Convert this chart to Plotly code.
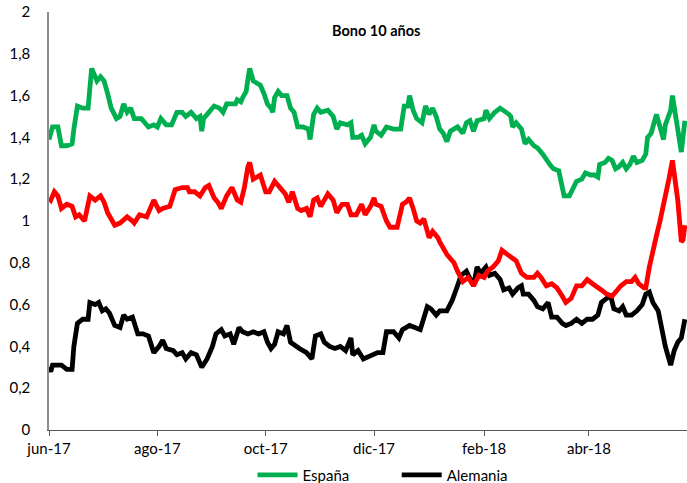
import pandas as pd
import plotly.graph_objects as go

BASE = "2017-06-01"

# days since 2017-06-01 and yields (%)
esp_days = [0, 2, 5, 7, 10, 13, 14, 16, 19, 22, 24, 27, 29, 31, 33, 35, 38, 40, 42, 44, 46, 48, 52, 56, 59, 61, 63, 66, 69, 72, 75, 77, 80, 83, 85, 86, 87, 91, 93, 96, 98, 100, 103, 105, 106, 108, 109, 111, 112, 113, 115, 117, 119, 121, 123, 125, 126, 127, 129, 131, 134, 136, 138, 140, 143, 146, 147, 149, 151, 153, 157, 160, 162, 164, 168, 170, 171, 174, 176, 178, 181, 183, 184, 187, 190, 194, 198, 200, 202, 203, 205, 207, 210, 212, 214, 216, 218, 220, 222, 224, 226, 230, 231, 233, 235, 237, 239, 241, 245, 246, 248, 251, 254, 256, 259, 260, 261, 263, 266, 268, 270, 273, 275, 278, 280, 282, 284, 287, 289, 290, 293, 295, 297, 300, 302, 305, 307, 309, 310, 313, 315, 317, 319, 321, 323, 325, 327, 329, 331, 334, 336, 337, 339, 342, 344, 346, 347, 350, 351, 352, 354, 356, 358]
esp_vals = [1.39, 1.45, 1.45, 1.36, 1.36, 1.37, 1.44, 1.55, 1.54, 1.54, 1.73, 1.67, 1.69, 1.67, 1.61, 1.54, 1.49, 1.50, 1.56, 1.52, 1.54, 1.49, 1.49, 1.45, 1.46, 1.45, 1.49, 1.46, 1.46, 1.52, 1.52, 1.50, 1.52, 1.49, 1.50, 1.43, 1.49, 1.53, 1.55, 1.54, 1.52, 1.56, 1.56, 1.56, 1.58, 1.57, 1.59, 1.62, 1.68, 1.73, 1.67, 1.66, 1.65, 1.61, 1.56, 1.54, 1.52, 1.59, 1.62, 1.60, 1.60, 1.54, 1.52, 1.45, 1.45, 1.44, 1.39, 1.51, 1.54, 1.52, 1.53, 1.50, 1.44, 1.47, 1.46, 1.47, 1.40, 1.40, 1.41, 1.37, 1.40, 1.46, 1.43, 1.41, 1.45, 1.44, 1.44, 1.55, 1.55, 1.60, 1.53, 1.49, 1.47, 1.55, 1.51, 1.54, 1.50, 1.44, 1.42, 1.38, 1.43, 1.45, 1.44, 1.42, 1.47, 1.48, 1.43, 1.48, 1.49, 1.53, 1.49, 1.52, 1.54, 1.53, 1.51, 1.50, 1.45, 1.47, 1.44, 1.37, 1.39, 1.36, 1.35, 1.32, 1.29, 1.27, 1.25, 1.24, 1.16, 1.12, 1.12, 1.15, 1.19, 1.20, 1.23, 1.22, 1.22, 1.21, 1.27, 1.28, 1.30, 1.29, 1.25, 1.26, 1.28, 1.25, 1.27, 1.31, 1.28, 1.29, 1.32, 1.40, 1.42, 1.51, 1.44, 1.39, 1.46, 1.53, 1.60, 1.54, 1.42, 1.33, 1.48]

ale_days = [0, 1, 2, 5, 7, 10, 13, 14, 16, 19, 22, 23, 26, 28, 30, 32, 34, 37, 40, 42, 44, 47, 50, 53, 56, 59, 62, 64, 66, 70, 72, 75, 77, 80, 83, 86, 89, 92, 94, 97, 99, 102, 104, 107, 109, 112, 115, 118, 121, 123, 125, 127, 129, 132, 134, 136, 139, 141, 145, 148, 150, 153, 155, 158, 161, 164, 167, 170, 171, 174, 177, 180, 183, 185, 188, 190, 194, 197, 199, 203, 206, 209, 213, 215, 218, 220, 224, 227, 230, 232, 235, 237, 239, 241, 243, 246, 248, 251, 254, 256, 259, 261, 264, 266, 267, 270, 273, 275, 278, 281, 283, 286, 289, 291, 294, 297, 300, 303, 306, 309, 311, 314, 316, 318, 321, 323, 325, 328, 331, 334, 336, 338, 340, 343, 345, 347, 350, 352, 354, 356, 358]
ale_vals = [0.30, 0.28, 0.31, 0.31, 0.31, 0.29, 0.29, 0.40, 0.51, 0.53, 0.53, 0.61, 0.60, 0.61, 0.57, 0.58, 0.56, 0.50, 0.49, 0.55, 0.53, 0.54, 0.46, 0.46, 0.45, 0.37, 0.40, 0.43, 0.39, 0.38, 0.36, 0.37, 0.34, 0.37, 0.36, 0.30, 0.34, 0.40, 0.46, 0.48, 0.45, 0.46, 0.41, 0.49, 0.47, 0.46, 0.47, 0.46, 0.47, 0.42, 0.39, 0.41, 0.47, 0.46, 0.50, 0.42, 0.40, 0.39, 0.37, 0.34, 0.45, 0.46, 0.42, 0.40, 0.39, 0.40, 0.38, 0.44, 0.36, 0.38, 0.34, 0.35, 0.36, 0.37, 0.37, 0.47, 0.47, 0.44, 0.48, 0.50, 0.49, 0.48, 0.59, 0.58, 0.55, 0.57, 0.57, 0.62, 0.69, 0.74, 0.76, 0.73, 0.69, 0.78, 0.75, 0.78, 0.74, 0.75, 0.72, 0.67, 0.68, 0.65, 0.68, 0.69, 0.65, 0.65, 0.62, 0.59, 0.58, 0.61, 0.54, 0.54, 0.51, 0.50, 0.51, 0.53, 0.51, 0.53, 0.53, 0.55, 0.61, 0.63, 0.65, 0.58, 0.57, 0.59, 0.55, 0.55, 0.57, 0.60, 0.65, 0.66, 0.61, 0.57, 0.48, 0.40, 0.31, 0.38, 0.42, 0.44, 0.53]

dif_days = [0, 1, 3, 5, 7, 10, 13, 15, 17, 20, 23, 26, 29, 31, 33, 37, 40, 44, 47, 48, 51, 55, 59, 62, 64, 68, 71, 75, 78, 79, 82, 85, 88, 90, 93, 95, 97, 100, 103, 106, 108, 110, 112, 113, 115, 117, 119, 122, 124, 127, 130, 133, 135, 137, 140, 142, 145, 147, 149, 151, 153, 157, 160, 162, 165, 168, 170, 173, 176, 178, 181, 183, 184, 187, 190, 192, 196, 199, 201, 203, 205, 207, 209, 211, 214, 216, 219, 220, 224, 228, 230, 233, 236, 239, 242, 245, 247, 250, 253, 255, 258, 260, 263, 266, 269, 273, 275, 277, 280, 283, 286, 289, 291, 294, 297, 300, 303, 306, 308, 311, 314, 317, 320, 322, 325, 328, 330, 332, 335, 336, 338, 340, 342, 344, 345, 347, 349, 351, 352, 354, 356, 357, 358]
dif_vals = [1.11, 1.10, 1.14, 1.12, 1.06, 1.08, 1.07, 1.02, 1.03, 1.00, 1.12, 1.10, 1.12, 1.09, 1.04, 0.98, 0.99, 1.02, 1.00, 0.99, 1.03, 1.02, 1.10, 1.05, 1.06, 1.07, 1.15, 1.16, 1.16, 1.14, 1.14, 1.12, 1.16, 1.17, 1.11, 1.09, 1.06, 1.12, 1.16, 1.10, 1.09, 1.16, 1.26, 1.28, 1.20, 1.21, 1.22, 1.14, 1.14, 1.19, 1.16, 1.13, 1.09, 1.14, 1.06, 1.05, 1.06, 1.02, 1.10, 1.11, 1.07, 1.13, 1.10, 1.04, 1.08, 1.08, 1.03, 1.03, 1.08, 1.03, 1.07, 1.11, 1.08, 1.07, 1.00, 0.97, 0.97, 1.08, 1.09, 1.11, 1.06, 1.00, 0.99, 1.01, 0.92, 0.95, 0.92, 0.90, 0.84, 0.80, 0.76, 0.71, 0.73, 0.69, 0.74, 0.73, 0.76, 0.78, 0.81, 0.86, 0.84, 0.83, 0.81, 0.75, 0.73, 0.73, 0.75, 0.73, 0.69, 0.70, 0.68, 0.64, 0.61, 0.63, 0.69, 0.69, 0.72, 0.70, 0.69, 0.67, 0.65, 0.64, 0.67, 0.69, 0.71, 0.71, 0.73, 0.70, 0.68, 0.68, 0.78, 0.87, 0.93, 1.00, 1.04, 1.10, 1.20, 1.29, 1.22, 1.10, 0.90, 0.91, 0.98]

tick_dates = ["2017-06-01", "2017-08-01", "2017-10-01", "2017-12-01", "2018-02-01", "2018-04-01"]
tick_text = ["jun-17", "ago-17", "oct-17", "dic-17", "feb-18", "abr-18"]
y_ticks = [0, 0.2, 0.4, 0.6, 0.8, 1, 1.2, 1.4, 1.6, 1.8, 2]


def to_dates(days):
    return pd.Timestamp(BASE) + pd.to_timedelta(days, unit="D")


FONT = "Lato, 'Open Sans', sans-serif"
LW = 4.8
LEG_COMMON = dict(orientation="h", xanchor="left", xref="paper", y=-0.108, yanchor="middle",
                  yref="paper", font=dict(size=15), itemwidth=40, bgcolor="rgba(0,0,0,0)")

fig = go.Figure()
fig.add_trace(go.Scatter(x=to_dates(ale_days), y=ale_vals, mode="lines", name="Alemania",
                         line=dict(color="#000000", width=LW), legend="legend2"))
fig.add_trace(go.Scatter(x=to_dates(dif_days), y=dif_vals, mode="lines", name="Diferencial",
                         line=dict(color="#ff0000", width=LW), showlegend=False))
fig.add_trace(go.Scatter(x=to_dates(esp_days), y=esp_vals, mode="lines", name="España",
                         line=dict(color="#00b050", width=LW), legend="legend"))

fig.update_layout(
    width=687, height=483,
    margin=dict(l=49, r=0, t=12, b=53, autoexpand=False),
    paper_bgcolor="white", plot_bgcolor="white",
    separators=", ",
    font=dict(family=FONT, size=15, color="#000000"),
    showlegend=True,
    legend=dict(x=0.319, **LEG_COMMON),
    legend2=dict(x=0.545, **LEG_COMMON),
    annotations=[dict(text="<b>Bono 10 años</b>", x=0.512, xref="paper", xanchor="center",
                      y=(418 - 19) / 418, yref="paper", yanchor="middle", showarrow=False,
                      font=dict(size=14.5, family=FONT))],
)
fig.update_xaxes(
    type="date",
    range=[to_dates(0), to_dates(359.2)],
    tickvals=tick_dates, ticktext=tick_text,
    showgrid=False, zeroline=False,
    showline=True, linecolor="#595959", linewidth=1.3,
    ticks="outside", ticklen=5, tickcolor="#595959", tickwidth=1.3,
    tickfont=dict(size=15),
)
fig.update_yaxes(
    range=[0, 2], tickvals=y_ticks,
    showgrid=False, zeroline=False,
    showline=True, linecolor="#8c8c8c", linewidth=1.5,
    ticks="", ticklabelstandoff=14,
    tickfont=dict(size=15),
)

fig.write_html("out.html", config={"displayModeBar": False},
               post_script="document.body.style.margin='0';")
